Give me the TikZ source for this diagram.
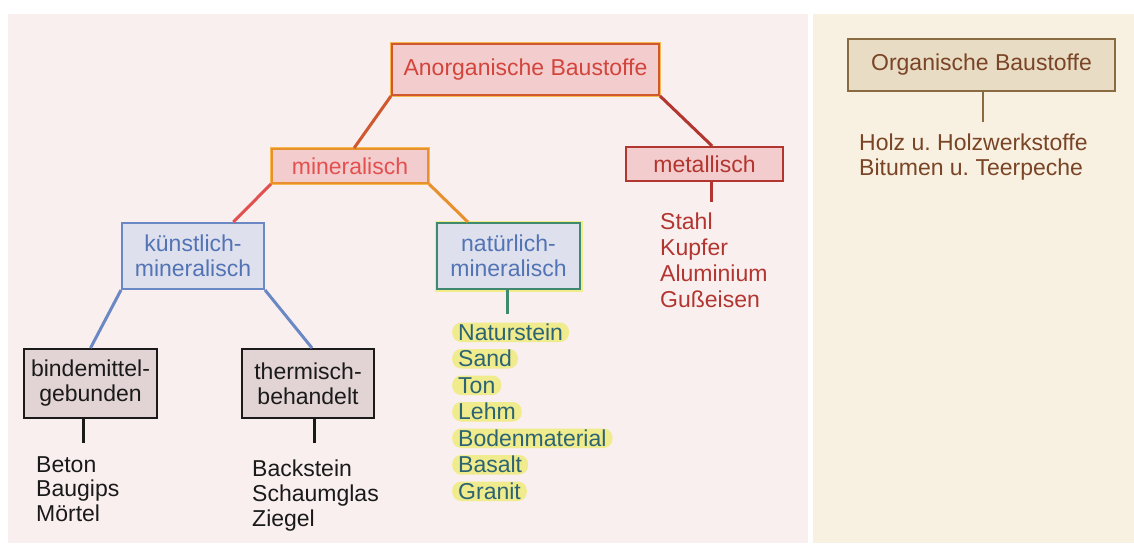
\documentclass[tikz,border=0pt]{standalone}
\usepackage{fontspec}
\setmainfont{Liberation Sans}
\usetikzlibrary{calc}
\frenchspacing
\definecolor{leftbg}{HTML}{F9EFEF}
\definecolor{rightbg}{HTML}{F8F0E0}
\definecolor{pinkfill}{HTML}{F3CDCD}
\definecolor{bluefill}{HTML}{DFE0EE}
\definecolor{grayfill}{HTML}{E2D4D4}
\definecolor{orgfill}{HTML}{E8DCC4}
\definecolor{redtext}{HTML}{D2443C}
\definecolor{minitext}{HTML}{E25050}
\definecolor{metred}{HTML}{B23530}
\definecolor{bluetext}{HTML}{5274B4}
\definecolor{bluestroke}{HTML}{6A88C4}
\definecolor{greenstroke}{HTML}{3F8A6E}
\definecolor{glowyellow}{HTML}{F2EC88}
\definecolor{gloworange}{HTML}{F6B850}
\definecolor{orangestroke}{HTML}{E8902E}
\definecolor{anorgstroke}{HTML}{D0582E}
\definecolor{orgstroke}{HTML}{8A6A40}
\definecolor{orgtext}{HTML}{7A4426}
\definecolor{natlist}{HTML}{2C6474}
\definecolor{pillcol}{HTML}{F0EB8C}
\definecolor{darktext}{HTML}{1A1A1A}
\begin{document}
\begin{tikzpicture}[x=1pt,y=-1pt,
  every node/.style={font=\fontsize{23}{25}\selectfont},
  box/.style={line width=2pt, inner sep=0pt, align=center},
  conn/.style={line width=3pt},
  listtext/.style={inner sep=0pt, anchor=base west},
  pill/.style={fill=pillcol, rounded corners=9pt, inner xsep=6pt, inner ysep=0pt,
    text height=17.5pt, text depth=2pt, anchor=base west, text=natlist}
]
\useasboundingbox (0,0) rectangle (1134,543);
\fill[white] (0,0) rectangle (1134,543);
\fill[leftbg] (8,14) rectangle (808,543);
\fill[rightbg] (813,14) rectangle (1134,543);

% boxes
\node[box, fill=pinkfill, draw=anorgstroke, text=redtext,
  preaction={draw=gloworange, line width=4.5pt},
  minimum width=267pt, minimum height=51pt] (A) at (525.5,69.5) {Anorganische Baustoffe};
\node[box, fill=pinkfill, draw=orangestroke, text=minitext,
  preaction={draw=gloworange, line width=4pt},
  minimum width=156pt, minimum height=34pt] (min) at (350,166) {mineralisch};
\node[box, fill=pinkfill, draw=metred, text=metred,
  minimum width=157pt, minimum height=34pt] (met) at (704.5,164) {metallisch};
\node[box, fill=bluefill, draw=bluestroke, text=bluetext,
  minimum width=142pt, minimum height=66pt] (kun) at (193,256) {künstlich-\\mineralisch};
\node[box, fill=bluefill, draw=greenstroke, text=bluetext,
  preaction={draw=glowyellow, line width=5pt},
  minimum width=143pt, minimum height=66pt] (nat) at (508.5,256) {natürlich-\\mineralisch};
\node[box, fill=grayfill, draw=darktext, text=darktext,
  minimum width=133pt, minimum height=69pt] (bind) at (90.5,383.5) {bindemittel-\\gebunden};
\node[box, fill=grayfill, draw=darktext, text=darktext,
  minimum width=132pt, minimum height=69pt] (therm) at (308,383.5) {thermisch-\\behandelt};
\node[box, fill=orgfill, draw=orgstroke, text=orgtext,
  minimum width=267pt, minimum height=52pt] (org) at (981.5,65) {Organische Baustoffe};

% connectors
\draw[conn, draw=anorgstroke] (A.south west) -- ($(min.north west)!0.526!(min.north east)$);
\draw[conn, draw=metred] (A.south east) -- ($(met.north west)!0.548!(met.north east)$);
\draw[conn, draw=minitext] (min.south west) -- ($(kun.north west)!0.78!(kun.north east)$);
\draw[conn, draw=orangestroke] (min.south east) -- ($(nat.north west)!0.22!(nat.north east)$);
\draw[conn, draw=bluestroke] (kun.south west) -- ($(bind.north west)!0.5!(bind.north east)$);
\draw[conn, draw=bluestroke] (kun.south east) -- ($(therm.north west)!0.53!(therm.north east)$);

\coordinate (bs) at (83,443);
\coordinate (ts) at (314,443);
\coordinate (ns) at (507,314);
\coordinate (ms) at (711,202);
\coordinate (os) at (983,122);
\draw[conn, draw=darktext] (bs |- bind.south) -- (bs);
\draw[conn, draw=darktext] (ts |- therm.south) -- (ts);
\draw[conn, draw=greenstroke] (ns |- nat.south) -- (ns);
\draw[conn, draw=metred] (ms |- met.south) -- (ms);
\draw[conn, draw=orgstroke, line width=2pt] (os |- org.south) -- (os);

% lists
\node[listtext, text=darktext] (b1) at (36,472) {Beton};
\node[listtext, text=darktext] (b2) at (36,496.5) {Baugips};
\node[listtext, text=darktext] (b3) at (36,521) {Mörtel};

\node[listtext, text=darktext] (t1) at (252,476) {Backstein};
\node[listtext, text=darktext] (t2) at (252,501) {Schaumglas};
\node[listtext, text=darktext] (t3) at (252,526) {Ziegel};

\node[listtext, text=metred] (m1) at (660,229) {Stahl};
\node[listtext, text=metred] (m2) at (660,255) {Kupfer};
\node[listtext, text=metred] (m3) at (660,281) {Aluminium};
\node[listtext, text=metred] (m4) at (660,307) {Gußeisen};

\node[listtext, text=orgtext] (o1) at (859,150) {Holz u. Holzwerkstoffe};
\node[listtext, text=orgtext] (o2) at (859,175) {Bitumen u. Teerpeche};

\node[pill] (n1) at (452,340) {Naturstein};
\node[pill] (n2) at (452,366.5) {Sand};
\node[pill] (n3) at (452,393) {Ton};
\node[pill] (n4) at (452,419.5) {Lehm};
\node[pill] (n5) at (452,446) {Bodenmaterial};
\node[pill] (n6) at (452,472.5) {Basalt};
\node[pill] (n7) at (452,499) {Granit};
\end{tikzpicture}
\end{document}
